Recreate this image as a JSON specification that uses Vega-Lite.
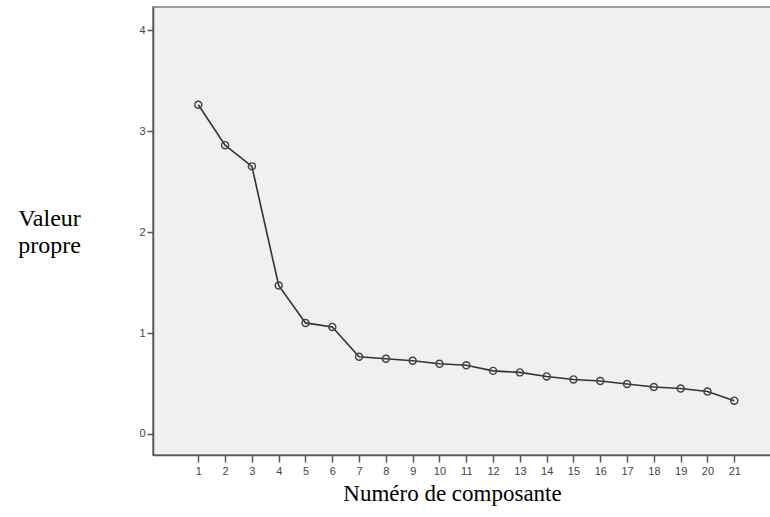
{
  "$schema": "https://vega.github.io/schema/vega-lite/v6.json",
  "autosize": "none",
  "width": 619,
  "height": 448,
  "padding": {"left": 153, "top": 7, "right": 0, "bottom": 62},
  "background": "white",
  "config": {
    "view": {"fill": "#f0f0f0", "stroke": "#9a9a9a", "strokeWidth": 2}
  },
  "data": {
    "values": [
      {"composante": 1, "valeur": 3.26},
      {"composante": 2, "valeur": 2.86},
      {"composante": 3, "valeur": 2.65},
      {"composante": 4, "valeur": 1.47},
      {"composante": 5, "valeur": 1.10},
      {"composante": 6, "valeur": 1.06},
      {"composante": 7, "valeur": 0.765},
      {"composante": 8, "valeur": 0.745},
      {"composante": 9, "valeur": 0.725},
      {"composante": 10, "valeur": 0.695},
      {"composante": 11, "valeur": 0.68},
      {"composante": 12, "valeur": 0.625},
      {"composante": 13, "valeur": 0.61},
      {"composante": 14, "valeur": 0.57},
      {"composante": 15, "valeur": 0.54},
      {"composante": 16, "valeur": 0.525},
      {"composante": 17, "valeur": 0.495},
      {"composante": 18, "valeur": 0.465},
      {"composante": 19, "valeur": 0.45},
      {"composante": 20, "valeur": 0.42},
      {"composante": 21, "valeur": 0.33}
    ]
  },
  "encoding": {
    "x": {
      "field": "composante",
      "type": "quantitative",
      "scale": {"domain": [-0.69, 22.407], "nice": false, "zero": false},
      "axis": {
        "values": [1,2,3,4,5,6,7,8,9,10,11,12,13,14,15,16,17,18,19,20,21],
        "grid": false,
        "title": "Numéro de composante",
        "titleFont": "Liberation Serif",
        "titleFontSize": 23,
        "titleFontWeight": "normal",
        "titleColor": "black",
        "titleAnchor": "start",
        "titleAlign": "center",
        "titleBaseline": "alphabetic",
        "titleX": 299,
        "titleY": 45,
        "domainColor": "#555",
        "domainWidth": 1.5,
        "tickColor": "#555",
        "tickWidth": 1.5,
        "tickSize": 7,
        "labelFont": "Liberation Sans",
        "labelFontSize": 11,
        "labelColor": "#444",
        "labelPadding": 3,
        "labelFlush": false,
        "labelOverlap": false
      }
    },
    "y": {
      "field": "valeur",
      "type": "quantitative",
      "scale": {"domain": [-0.208, 4.228], "nice": false, "zero": false},
      "axis": {
        "values": [0, 1, 2, 3, 4],
        "grid": false,
        "title": ["Valeur", "propre"],
        "titleFont": "Liberation Serif",
        "titleFontSize": 24,
        "titleFontWeight": "normal",
        "titleColor": "black",
        "titleAngle": 0,
        "titleAlign": "center",
        "titleBaseline": "alphabetic",
        "titleLineHeight": 27,
        "titleX": -104,
        "titleY": 218,
        "domainColor": "#555",
        "domainWidth": 1.5,
        "tickColor": "#555",
        "tickWidth": 1.5,
        "tickSize": 6,
        "labelFont": "Liberation Sans",
        "labelFontSize": 11,
        "labelColor": "#444",
        "labelPadding": 2,
        "labelFlush": false
      }
    }
  },
  "layer": [
    {"mark": {"type": "line", "color": "#333333", "strokeWidth": 1.6}},
    {"mark": {"type": "point", "shape": "circle", "filled": false, "size": 50, "stroke": "#444444", "strokeWidth": 1.4, "opacity": 1}}
  ]
}
